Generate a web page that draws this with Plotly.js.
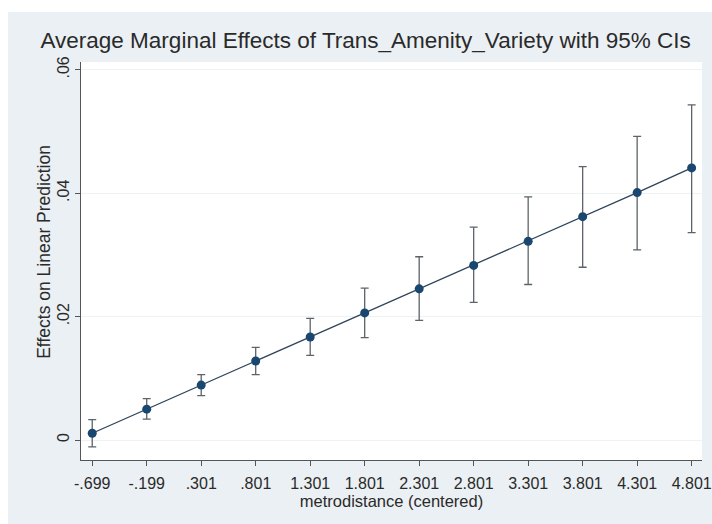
<!DOCTYPE html>
<html>
<head>
<meta charset="utf-8">
<script src="https://cdn.plot.ly/plotly-3.0.1.min.js"></script>
<style>
html,body{margin:0;padding:0;background:#ffffff;}
#chart{position:absolute;left:8px;top:12px;width:704px;height:512px;}
</style>
</head>
<body>
<div id="chart"></div>
<script>
const xValues = [-0.699, -0.199, 0.301, 0.801, 1.301, 1.801, 2.301, 2.801, 3.301, 3.801, 4.301, 4.801];
const xLabels = ["-.699", "-.199", ".301", ".801", "1.301", "1.801", "2.301", "2.801", "3.301", "3.801", "4.301", "4.801"];
const effects = [0.0011, 0.0050, 0.0089, 0.0128, 0.0167, 0.0206, 0.0245, 0.0283, 0.0322, 0.0362, 0.0401, 0.0441];
const ciUpper = [0.0033, 0.0067, 0.0106, 0.0150, 0.0197, 0.0246, 0.0297, 0.0345, 0.0394, 0.0443, 0.0492, 0.0543];
const ciLower = [-0.0011, 0.0034, 0.0072, 0.0106, 0.0137, 0.0166, 0.0194, 0.0223, 0.0252, 0.0280, 0.0308, 0.0336];
const yTickVals = [0, 0.02, 0.04, 0.06];
const yTickText = ["0", ".02", ".04", ".06"];
const titleText = 'Average Marginal Effects of Trans_Amenity_Variety with 95% CIs';
const xTitleText = 'metrodistance (centered)';
const yTitleText = 'Effects on Linear Prediction';

const errPlus = effects.map((v, i) => ciUpper[i] - v);
const errMinus = effects.map((v, i) => v - ciLower[i]);

const trace = {
  x: xValues,
  y: effects,
  type: 'scatter',
  mode: 'lines+markers',
  line: {color: '#2f4359', width: 1.3},
  marker: {color: '#1a476f', size: 9},
  error_y: {
    type: 'data',
    symmetric: false,
    array: errPlus,
    arrayminus: errMinus,
    color: '#5d6368',
    thickness: 1.3,
    width: 4
  },
  hoverinfo: 'x+y'
};

const layout = {
  width: 704,
  height: 512,
  paper_bgcolor: '#eaf0f3',
  plot_bgcolor: '#ffffff',
  margin: {l: 73, r: 10, t: 50, b: 64},
  showlegend: false,
  font: {family: 'Liberation Sans, Arial, sans-serif', color: '#2a2a2a'},
  title: {
    text: titleText,
    font: {size: 22.5, color: '#2a2a2a', family: 'Liberation Sans, Arial, sans-serif'},
    x: 0.508, xanchor: 'center',
    y: 0.945, yanchor: 'middle'
  },
  xaxis: {
    range: [-0.802, 4.896],
    tickvals: xValues,
    ticktext: xLabels,
    ticks: 'outside',
    ticklen: 5,
    tickcolor: '#555',
    tickwidth: 1,
    ticklabelstandoff: 4,
    tickfont: {size: 16, color: '#2a2a2a'},
    showline: true,
    linecolor: '#555',
    linewidth: 1,
    showgrid: false,
    zeroline: false,
    title: {text: xTitleText, font: {size: 16.5, color: '#2a2a2a'}, standoff: 2}
  },
  yaxis: {
    range: [-0.00324, 0.06126],
    tickvals: yTickVals,
    ticktext: yTickText,
    tickangle: -90,
    ticks: 'outside',
    ticklen: 5,
    tickcolor: '#555',
    tickwidth: 1,
    tickfont: {size: 16, color: '#2a2a2a'},
    showline: true,
    linecolor: '#555',
    linewidth: 1,
    showgrid: true,
    gridcolor: '#edf2f3',
    gridwidth: 1,
    zeroline: false
  },
  annotations: [{
    text: yTitleText,
    xref: 'paper', yref: 'y',
    x: -0.0596, y: 0.0305,
    xanchor: 'center', yanchor: 'middle',
    textangle: -90,
    showarrow: false,
    font: {size: 17.5, color: '#2a2a2a'}
  }]
};

Plotly.newPlot('chart', [trace], layout, {displayModeBar: false, staticPlot: true});
</script>
</body>
</html>
